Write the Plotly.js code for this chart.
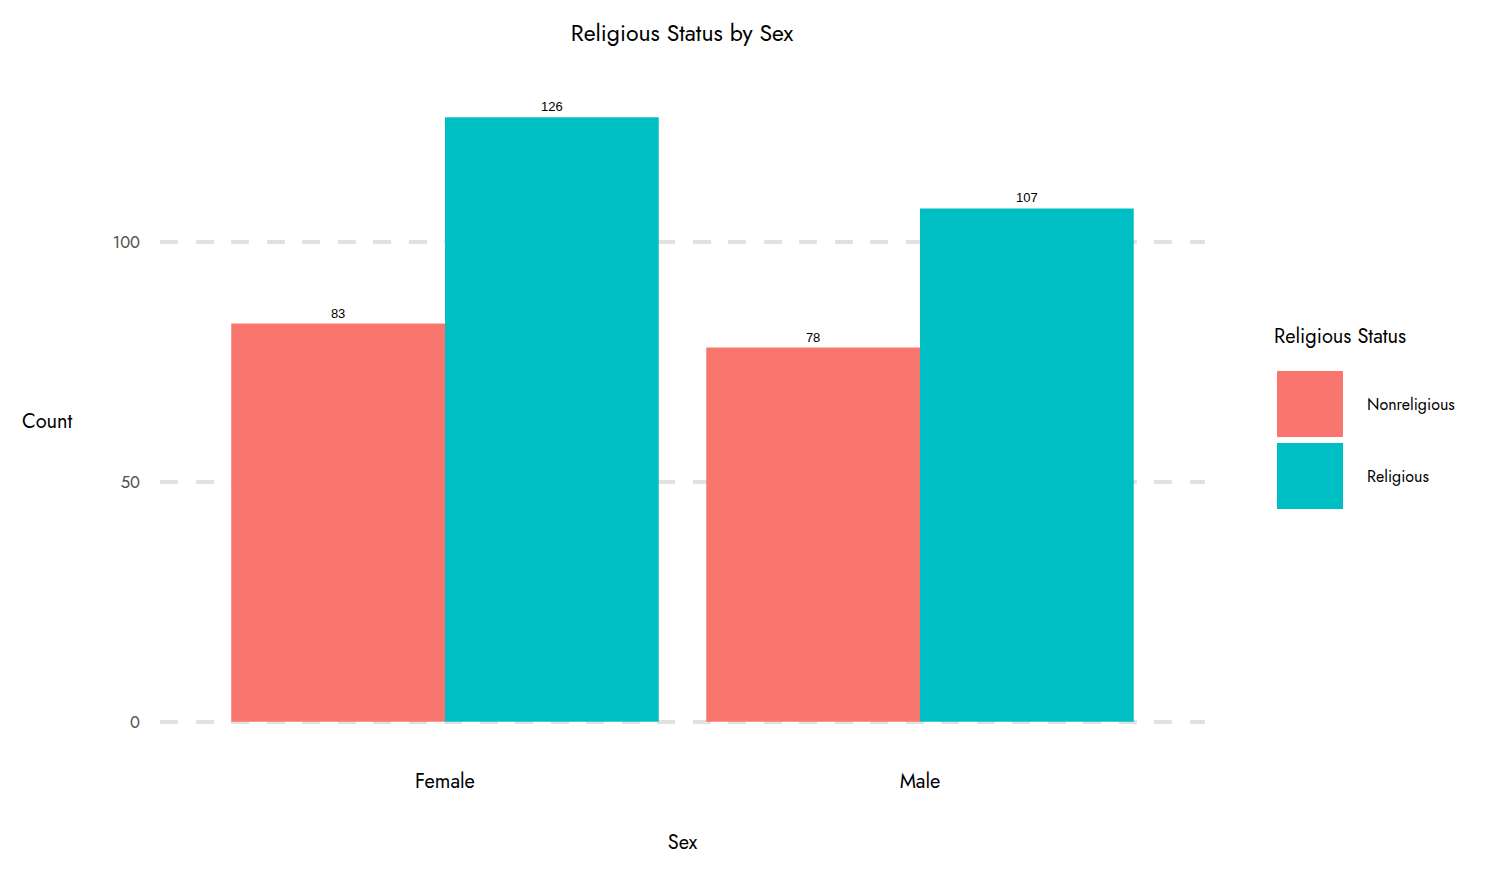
<!DOCTYPE html>
<html>
<head>
<meta charset="utf-8">
<script src="https://cdn.plot.ly/plotly-3.0.1.min.js"></script>
<style>html,body{margin:0;padding:0;background:#fff;}#chart{width:1500px;height:875px;}</style>
</head>
<body>
<div id="chart"></div>
<script>
const categories = ["Female", "Male"];
const seriesNames = ["Nonreligious", "Religious"];
const nonreligious = [83, 78];
const religious = [126, 107];
const yTicks = [0, 50, 100];
const colors = ["#F8766D", "#00BFC4"];

const W = 1500, H = 875;
const M = {l: 160, r: 295, t: 87, b: 123};
const PW = W - M.l - M.r, PH = H - M.t - M.b;
const px = x => (x - M.l) / PW;
const py = y => (H - M.b - y) / PH;

const font = "Jost, Lato, 'Open Sans', sans-serif";
const values = [nonreligious, religious];

const traces = seriesNames.map((name, i) => ({
  type: "bar",
  name: name,
  x: categories,
  y: values[i],
  marker: {color: colors[i], line: {width: 0}},
  text: values[i].map(String),
  textposition: "outside",
  cliponaxis: false,
  textfont: {family: "'Liberation Sans', Arial, sans-serif", size: 13, color: "#000"},
  hoverinfo: "x+y+name"
}));

const shapes = [];
const annotations = [
  {text: "Religious Status", xref: "paper", yref: "paper", x: px(1272), y: py(336), xanchor: "left", yanchor: "middle", showarrow: false, font: {family: font, size: 20, color: "#000"}}
];
seriesNames.forEach((name, i) => {
  const top = 371 + i * 72;
  shapes.push({type: "rect", xref: "paper", yref: "paper", x0: px(1277), x1: px(1343), y0: py(top + 66), y1: py(top), fillcolor: colors[i], line: {width: 0}});
  annotations.push({text: name, xref: "paper", yref: "paper", x: px(1365), y: py(top + 33), xanchor: "left", yanchor: "middle", showarrow: false, font: {family: font, size: 16, color: "#000"}});
});

const layout = {
  width: W, height: H,
  margin: M,
  paper_bgcolor: "#fff", plot_bgcolor: "#fff",
  barmode: "group", bargap: 0.1, bargroupgap: 0,
  showlegend: false,
  title: {text: "Religious Status by Sex", xref: "container", x: 682 / W, xanchor: "center", yref: "container", y: 1 - 33 / H, yanchor: "middle", font: {family: font, size: 23, color: "#000"}},
  xaxis: {
    type: "category", range: [-0.6, 1.6], showgrid: false, zeroline: false, showline: false, ticks: "",
    ticklabelstandoff: 15,
    tickfont: {family: font, size: 20, color: "#000"},
    title: {text: "Sex", font: {family: font, size: 20, color: "#000"}, standoff: 39}
  },
  yaxis: {
    range: [-6.3, 132.3], tickvals: yTicks, ticktext: yTicks.map(String),
    showgrid: true, gridcolor: "#e1e1e1", gridwidth: 4, griddash: "18px,17.5px",
    zeroline: false, showline: false, ticks: "", ticklabelstandoff: 19,
    tickfont: {family: font, size: 16.5, color: "#4d4d4d"},
    title: {text: ""}
  },
  shapes: shapes,
  annotations: annotations.concat([
    {text: "Count", xref: "paper", yref: "paper", x: px(47), y: py(421), xanchor: "center", yanchor: "middle", showarrow: false, font: {family: font, size: 20, color: "#000"}}
  ])
};

Plotly.newPlot("chart", traces, layout, {displayModeBar: false, staticPlot: true});
</script>
</body>
</html>
